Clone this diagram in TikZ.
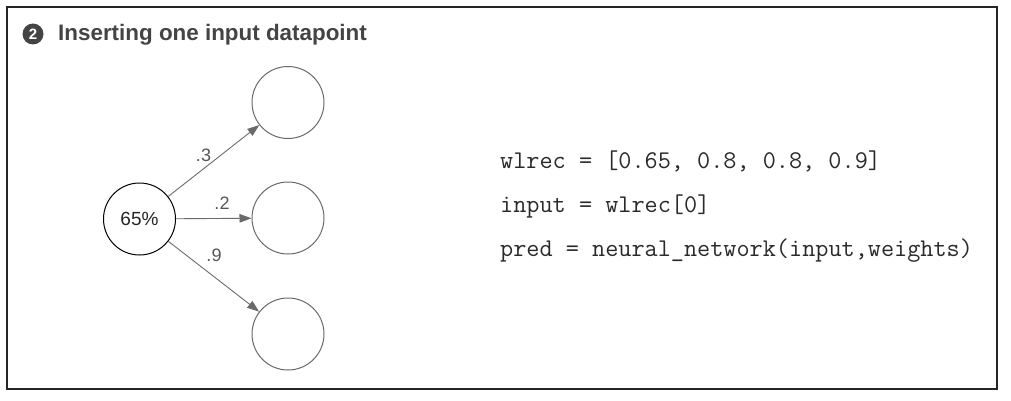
\documentclass[tikz,border=0pt]{standalone}
\usepackage{fontspec}
\setmainfont{Liberation Sans}
\usetikzlibrary{arrows.meta}
\definecolor{titlegray}{HTML}{444444}
\definecolor{edgegray}{HTML}{6A6A6A}
\definecolor{labelgray}{HTML}{555555}
\definecolor{codegray}{HTML}{2A2A2A}
\tikzset{
  inputnode/.style={circle, draw=black, line width=1pt, minimum size=72pt, inner sep=0pt,
    font=\fontsize{19}{22}\selectfont, text=black!85},
  outnode/.style={circle, draw=edgegray, line width=1pt, minimum size=72pt, inner sep=0pt},
  weightedge/.style={draw=edgegray, line width=0.9pt, -{Triangle[length=12pt,width=8.5pt]}},
  wlabel/.style={font=\fontsize{18}{20}\selectfont, text=labelgray, inner sep=0pt},
  codeline/.style={font=\ttfamily\fontsize{25.5}{28}\selectfont, text=codegray, anchor=base west, inner sep=0pt},
}
\begin{document}
\begin{tikzpicture}[x=1pt,y=-1pt]
\useasboundingbox (0,0) rectangle (1011,401);
\draw[line width=1.1pt, black!85] (7,7) rectangle (997,389);
% title
\node[circle, fill=titlegray, minimum size=21pt, inner sep=0pt,
  font=\bfseries\fontsize{15}{16}\selectfont, text=white] (num) at (33,34) {2};
\node[anchor=base west, inner sep=0pt, font=\bfseries\fontsize{22.4}{26}\selectfont, text=titlegray]
  (title) at (58,40.7) {Inserting one input datapoint};
% network
\node[inputnode] (in) at (139.5,219) {65\%};
\node[outnode] (o1) at (288,102.5) {};
\node[outnode] (o2) at (288,218) {};
\node[outnode] (o3) at (288,334) {};
\draw[weightedge] (in) -- (o1);
\draw[weightedge] (in) -- (o2);
\draw[weightedge] (in) -- (o3);
\node[wlabel] (l1) at (203.5,155) {.3};
\node[wlabel] (l2) at (222,203) {.2};
\node[wlabel] (l3) at (214,255) {.9};
% code
\node[codeline] (c1) at (500,168) {wlrec = [0.65, 0.8, 0.8, 0.9]};
\node[codeline] (c2) at (500,212.7) {input = wlrec[0]};
\node[codeline] (c3) at (500,256) {pred = neural\_network(input,weights)};
\end{tikzpicture}
\end{document}
